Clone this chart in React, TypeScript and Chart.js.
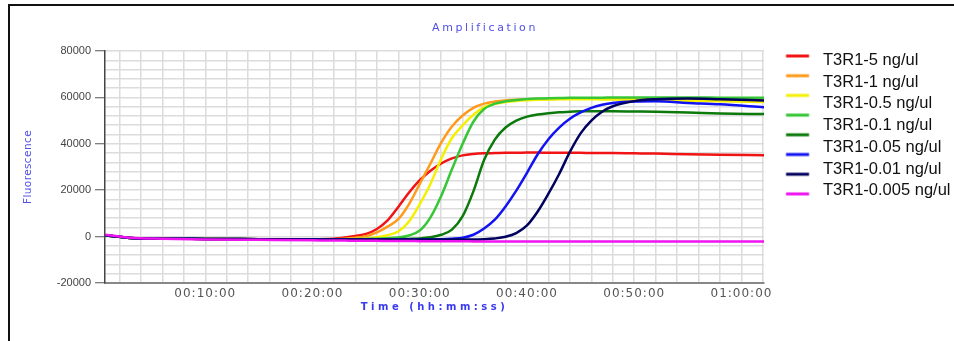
import React, { useEffect, useRef } from "react";
import { Chart, registerables } from "chart.js";

Chart.register(...registerables);

// time axis in minutes
const TIME_MIN = [0.7, 3, 6, 10, 15, 20, 22, 23, 24, 25, 26, 27, 28, 29, 30, 31, 32, 33, 34, 35, 36, 37, 38, 39, 40, 41, 42, 43, 44, 45, 46, 47, 48, 50, 52, 55, 58, 62.1];

const RED_5 = [500, -600, -900, -1000, -1100, -1100, -900, -400, 300, 1200, 3300, 7000, 12800, 19000, 24300, 28400, 31500, 33700, 35000, 35600, 35900, 36000, 36100, 36100, 36200, 36200, 36100, 36100, 36100, 36100, 36000, 36000, 36000, 35900, 35800, 35500, 35300, 35100];
const ORANGE_1 = [500, -600, -900, -1000, -1100, -1200, -1100, -900, -500, 200, 1800, 4300, 7500, 14000, 22700, 31500, 40500, 47500, 52200, 55500, 57300, 58200, 58700, 59000, 59200, 59300, 59300, 59400, 59400, 59400, 59400, 59400, 59400, 59400, 59300, 59200, 59000, 58800];
const YELLOW_05 = [500, -600, -900, -1000, -1100, -1200, -1200, -1100, -1000, -800, -300, 600, 2200, 6500, 14000, 22700, 33500, 42500, 48000, 52500, 55800, 57200, 58000, 58500, 58800, 59000, 59100, 59200, 59200, 59200, 59200, 59100, 59100, 59000, 58900, 58600, 58300, 58000];
const LGREEN_01 = [500, -600, -900, -1000, -1100, -1200, -1200, -1200, -1100, -1000, -900, -700, -400, 500, 2600, 8300, 17500, 29000, 40000, 49500, 55000, 57300, 58300, 58900, 59300, 59500, 59600, 59700, 59800, 59800, 59900, 59900, 60000, 60000, 60000, 60000, 59900, 59800];
const DGREEN_005 = [500, -600, -900, -1000, -1100, -1200, -1200, -1200, -1200, -1200, -1200, -1200, -1100, -1000, -800, -300, 800, 3000, 8800, 19500, 33000, 41800, 47000, 50000, 51700, 52600, 53200, 53600, 53800, 54000, 54000, 54000, 54000, 53900, 53800, 53500, 53100, 52800];
const BLUE_001 = [500, -600, -900, -1000, -1100, -1200, -1200, -1200, -1200, -1200, -1200, -1200, -1200, -1200, -1200, -1200, -1100, -900, -500, 800, 3500, 7300, 13000, 19800, 27500, 35500, 42000, 47000, 50800, 53500, 55500, 56800, 57600, 58200, 58300, 57600, 57000, 55700];
const NAVY = [500, -600, -900, -1000, -1100, -1200, -1200, -1200, -1200, -1200, -1200, -1200, -1200, -1200, -1200, -1200, -1200, -1200, -1200, -1200, -1100, -800, -100, 1500, 4800, 10800, 18500, 27000, 36500, 44500, 50000, 53800, 56200, 58400, 59200, 59500, 59200, 58700];
const MAGENTA = [800, -500, -900, -1200, -1400, -1600, -1700, -1700, -1800, -1800, -1800, -1900, -1900, -1900, -2000, -2000, -2000, -2000, -2000, -2100, -2100, -2100, -2100, -2100, -2100, -2100, -2100, -2100, -2100, -2100, -2100, -2100, -2100, -2100, -2100, -2100, -2100, -2100];

const SERIES_VALUES = [RED_5, ORANGE_1, YELLOW_05, LGREEN_01, DGREEN_005, BLUE_001, NAVY, MAGENTA];
const SERIES_NAMES = ["T3R1-5 ng/ul", "T3R1-1 ng/ul", "T3R1-0.5 ng/ul", "T3R1-0.1 ng/ul", "T3R1-0.05 ng/ul", "T3R1-0.01 ng/ul", "T3R1-0.005 ng/ul", "NTC"];
const SERIES_COLORS = ["#f01414", "#ff9a1a", "#f4f000", "#36c636", "#0b7a0b", "#1212f2", "#00005e", "#f014f0"];

// legend text rows as they appear (7 texts beside 8 swatches)
const LEGEND_TEXTS = ["T3R1-5 ng/ul", "T3R1-1 ng/ul", "T3R1-0.5 ng/ul", "T3R1-0.1 ng/ul", "T3R1-0.05 ng/ul", "T3R1-0.01 ng/ul", "T3R1-0.005 ng/ul"];

const X_GRID_MIN = [2, 4, 6, 8, 10, 12, 14, 16, 18, 20, 22, 24, 26, 28, 30, 32, 34, 36, 38, 40, 42, 44, 46, 48, 50, 52, 54, 56, 58, 60, 62];
const X_LABEL_MIN = [10, 20, 30, 40, 50, 60];
const Y_GRID = [-20000, -16000, -12000, -8000, -4000, 0, 4000, 8000, 12000, 16000, 20000, 24000, 28000, 32000, 36000, 40000, 44000, 48000, 52000, 56000, 60000, 64000, 68000, 72000, 76000, 80000];
const Y_LABELS = [-20000, 0, 20000, 40000, 60000, 80000];

function fmtTime(m: number): string {
  const h = Math.floor(m / 60);
  const mm = m % 60;
  const p = (n: number) => String(n).padStart(2, "0");
  return `${p(h)}:${p(mm)}:00`;
}

function makeSwatch(color: string): HTMLCanvasElement {
  const c = document.createElement("canvas");
  c.width = 170;
  c.height = 14;
  const g = c.getContext("2d")!;
  g.fillStyle = color;
  g.fillRect(16.3, 5.5, 23, 3);
  return c;
}

function wrapSpacing(obj: any, method: string, spacing: string) {
  if (!obj || obj["__ws_" + method]) return;
  const orig = obj[method];
  obj[method] = function (...args: any[]) {
    const ctx = this.ctx;
    const prev = ctx.letterSpacing;
    ctx.letterSpacing = spacing;
    const r = orig.apply(this, args);
    ctx.letterSpacing = prev;
    return r;
  };
  obj["__ws_" + method] = true;
}

const tweakPlugin = {
  id: "tweak",
  afterLayout(chart: any) {
    const lg = chart.legend;
    if (lg) {
      const h = lg.bottom - lg.top;
      lg.top = 43.3;
      lg.bottom = 43.3 + h;
    }
    wrapSpacing(chart.scales.x, "drawTitle", "3.5px");
    wrapSpacing(chart.scales.x, "drawLabels", "1px");
    wrapSpacing(chart.scales.y, "drawTitle", "0.4px");
    wrapSpacing(chart.titleBlock, "draw", "2.6px");
  },
  afterDraw(chart: any) {
    const ctx = chart.ctx;
    ctx.save();
    ctx.fillStyle = "#111";
    ctx.fillRect(8, 4, 946, 2);
    ctx.fillRect(8, 4, 2, 337);
    ctx.restore();
  },
};

export default function App() {
  const ref = useRef<HTMLCanvasElement | null>(null);
  useEffect(() => {
    document.body.style.margin = "0";
    const canvas = ref.current!;
    const n = SERIES_VALUES.length;
    const chart = new Chart(canvas, {
      type: "line",
      data: {
        datasets: SERIES_VALUES.map((vals, i) => ({
          label: SERIES_NAMES[i],
          data: TIME_MIN.map((t, j) => ({ x: t, y: vals[j] })),
          borderColor: SERIES_COLORS[i],
          backgroundColor: SERIES_COLORS[i],
          borderWidth: 2.5,
          pointRadius: 0,
          pointHoverRadius: 0,
          pointStyle: makeSwatch(SERIES_COLORS[i]) as any,
          cubicInterpolationMode: "monotone" as const,
          fill: false,
          order: n - i,
        })),
      },
      options: {
        responsive: false,
        animation: false,
        events: [],
        layout: { padding: { left: 16, right: 0, top: 0, bottom: 0 } },
        plugins: {
          title: {
            display: true,
            text: "Amplification",
            color: "#5050e6",
            font: { family: "DejaVu Sans", size: 11, weight: "normal" },
            padding: { top: 21.4, bottom: 16.4 },
          },
          legend: {
            position: "right",
            align: "start",
            maxWidth: 190,
            labels: {
              usePointStyle: true,
              pointStyleWidth: 170,
              padding: 5.7,
              color: "#111",
              font: { family: "Liberation Sans, Arial", size: 14 },
              sort: (a: any, b: any) => a.datasetIndex - b.datasetIndex,
              generateLabels: (c: any) =>
                (Chart.defaults.plugins.legend.labels.generateLabels as any)(c).map((l: any) => ({ ...l, text: "" })),
            },
          },
          tooltip: { enabled: false },
        },
        scales: {
          x: {
            type: "linear",
            min: 0.65,
            max: 62.1,
            afterBuildTicks: (ax: any) => {
              ax.ticks = X_GRID_MIN.map((v) => ({ value: v }));
            },
            afterFit: (s: any) => {
              s.height = 58;
            },
            ticks: {
              autoSkip: false,
              maxRotation: 0,
              padding: 4,
              color: "#555",
              font: { family: "DejaVu Sans", size: 12 },
              callback: (v: any) => (X_LABEL_MIN.includes(Number(v)) ? fmtTime(Number(v)) : ""),
            },
            grid: { color: "#dcdcdc", lineWidth: 1.5, drawTicks: false },
            border: { color: "#888", width: 2 },
            title: {
              display: true,
              text: "Time (hh:mm:ss)",
              color: "#3a3af0",
              font: { family: "DejaVu Sans", size: 10, weight: "bold" },
              padding: { top: 0, bottom: 27.5 },
            },
          },
          y: {
            min: -20000,
            max: 80000,
            afterBuildTicks: (ax: any) => {
              ax.ticks = Y_GRID.map((v) => ({ value: v }));
            },
            afterFit: (s: any) => {
              s.width = 89;
            },
            ticks: {
              autoSkip: false,
              padding: 4,
              color: "#444",
              font: { family: "Liberation Sans, Arial", size: 11 },
              callback: (v: any) => (Y_LABELS.includes(Number(v)) ? String(v) : ""),
            },
            grid: {
              color: "#dcdcdc",
              lineWidth: 1.5,
              tickLength: 10,
              tickWidth: 1,
              tickColor: (c: any) => (c.tick && Y_LABELS.includes(c.tick.value) ? "#555" : "rgba(0,0,0,0)"),
            },
            border: { color: "#444", width: 1.5 },
            title: {
              display: true,
              text: "Fluorescence",
              color: "#5050e6",
              font: { family: "DejaVu Sans", size: 10.5 },
              padding: { top: 5.7, bottom: 0 },
            },
          },
        },
      },
      plugins: [tweakPlugin],
    });
    return () => chart.destroy();
  }, []);
  return (
    <div style={{ position: "relative", width: 954, height: 341 }}>
      <canvas ref={ref} width={954} height={341} style={{ display: "block" }} />
      <div
        style={{
          position: "absolute",
          left: 823,
          top: 49,
          fontFamily: "'Liberation Sans', Arial, sans-serif",
          fontSize: "16.5px",
          lineHeight: "21.7px",
          color: "#111",
          whiteSpace: "nowrap",
        }}
      >
        {LEGEND_TEXTS.map((t) => (
          <div key={t}>{t}</div>
        ))}
      </div>
    </div>
  );
}
